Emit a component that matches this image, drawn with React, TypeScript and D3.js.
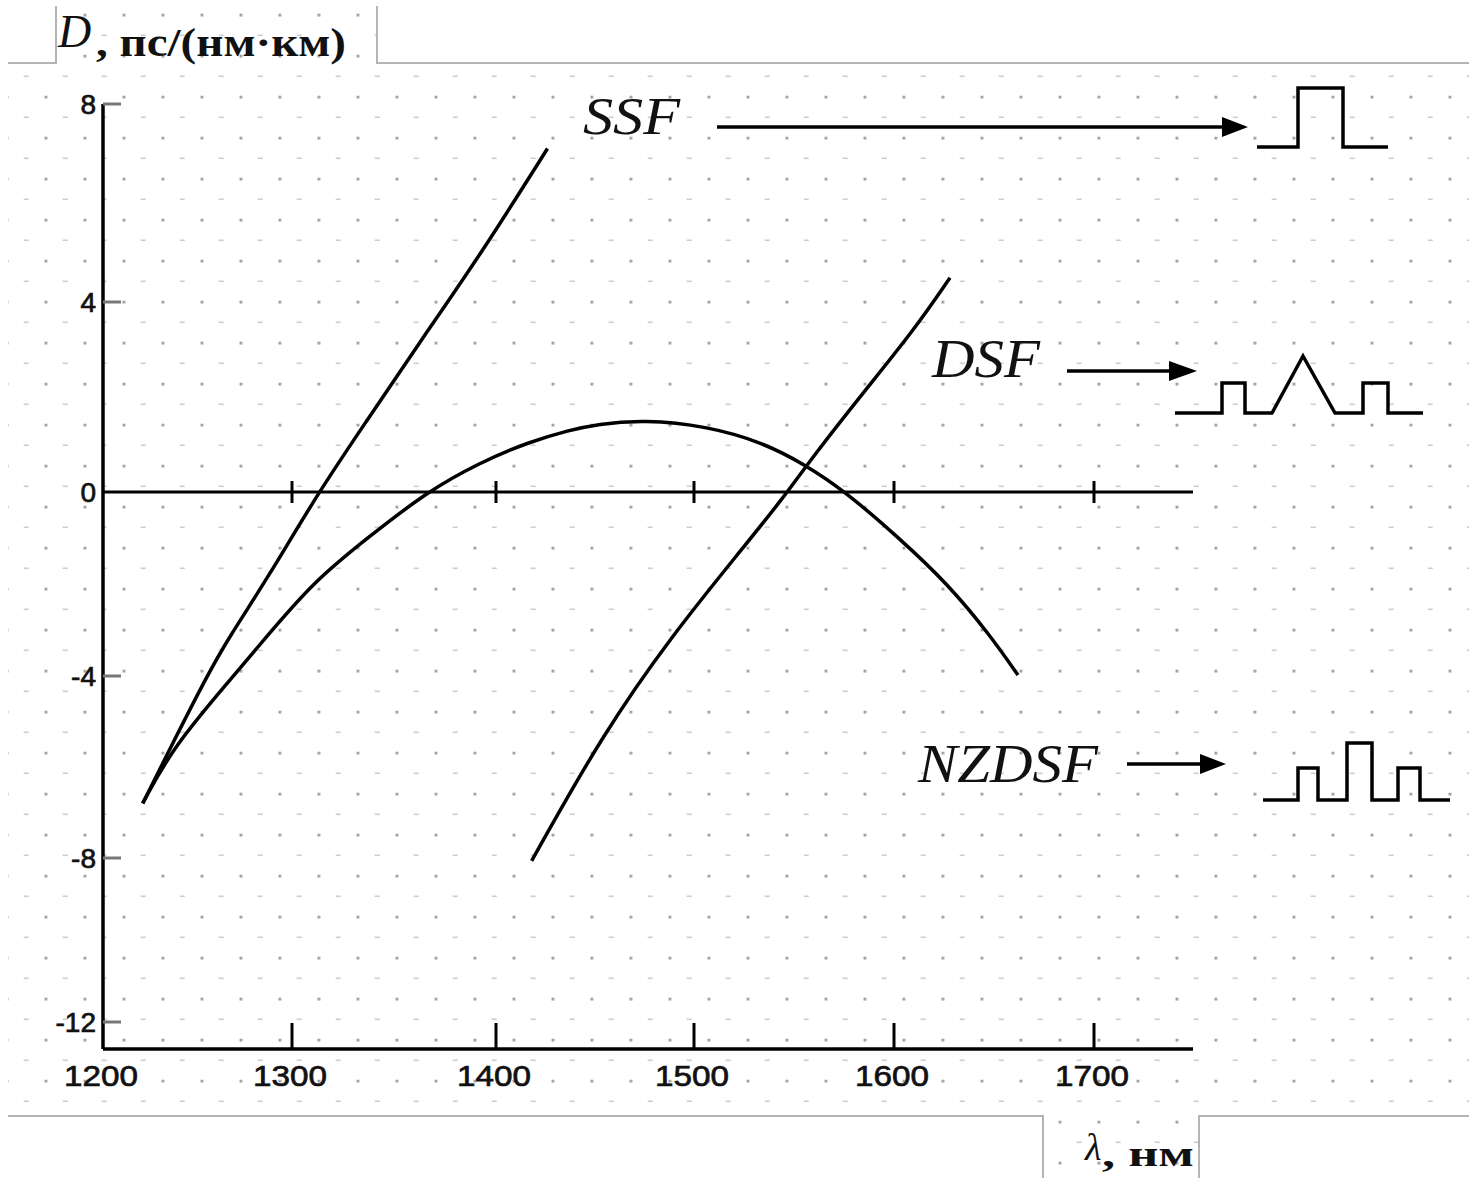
import React from "react";
import * as d3 from "d3";

// ---- data ----
const xTicks = [1200, 1300, 1400, 1500, 1600, 1700];
const yTicks = [8, 4, 0, -4, -8, -12];
const yTickLabels = ["8", "4", "0", "-4", "-8", "-12"];

const ssfLambda = [1221, 1236, 1255, 1266, 1287, 1313, 1337, 1363, 1392, 1426];
const ssfD = [-6.8, -5.55, -4.0, -3.2, -1.88, 0, 1.52, 3.18, 4.93, 7.1];

const nzdsfLambda = [1221, 1237, 1269, 1285, 1311, 1337, 1366, 1392, 1417, 1437, 1451, 1475, 1506, 1534, 1555, 1576, 1602, 1627, 1648, 1662];
const nzdsfD = [-6.8, -5.56, -4.0, -3.22, -1.93, -1.0, 0, 0.62, 1.06, 1.3, 1.43, 1.52, 1.39, 1.05, 0.59, 0, -0.98, -2.0, -3.11, -3.98];

const dsfLambda = [1418, 1454, 1489, 1524, 1545, 1559, 1584, 1610, 1628];
const dsfD = [-8.07, -5.27, -3.11, -1.24, -0.11, 0.72, 2.06, 3.41, 4.49];

// ---- scales (the scanned original is slightly non-uniform, so piecewise) ----
const x = d3.scaleLinear().domain([1200, 1300, 1400, 1500, 1600, 1700, 1750]).range([103, 292, 496, 694, 894, 1094, 1193]);
const y = d3.scaleLinear().domain([-12.7, -12, -8, -4, 0, 4, 8]).range([1049, 1022, 858, 676, 492, 302, 104]);

const line = d3
  .line<[number, number]>()
  .x((d) => x(d[0]))
  .y((d) => y(d[1]))
  .curve(d3.curveBasis);

const zip = (a: number[], b: number[]) => a.map((v, i) => [v, b[i]] as [number, number]);

// refractive-index profile sketches
const ssfProfile = [[1257, 147], [1298, 147], [1298, 88], [1343, 88], [1343, 147], [1388, 147]];
const dsfProfile = [[1175, 413], [1222, 413], [1222, 383], [1245, 383], [1245, 413], [1272, 413], [1303, 356], [1335, 413], [1363, 413], [1363, 383], [1388, 383], [1388, 413], [1423, 413]];
const nzdsfProfile = [[1263, 800], [1298, 800], [1298, 768], [1318, 768], [1318, 800], [1347, 800], [1347, 743], [1372, 743], [1372, 800], [1398, 800], [1398, 768], [1420, 768], [1420, 800], [1450, 800]];

const poly = (pts: number[][]) => "M" + pts.map((p) => p.join(",")).join("L");

function Arrow({ x1, x2, yy, head }: { x1: number; x2: number; yy: number; head: number }) {
  return (
    <g>
      <line x1={x1} x2={x2 - head + 2} y1={yy} y2={yy} stroke="#000" strokeWidth={3.5} />
      <path d={`M${x2},${yy}L${x2 - head},${yy - 10}L${x2 - head},${yy + 10}Z`} fill="#000" />
    </g>
  );
}

export default function App() {
  const serif = "'Liberation Serif', 'DejaVu Serif', serif";
  const sans = "'Liberation Sans', Arial, sans-serif";
  const yAxisX = x(1200);
  const bottomY = y(-12.7);
  return (
    <svg width={1469} height={1178} style={{ position: "absolute", left: 0, top: 0, background: "#fff" }}>
      <defs>
        <pattern id="dots" x={4.7} y={12.9} width={39} height={41} patternUnits="userSpaceOnUse">
          <rect x={0.8} y={0.8} width={2.8} height={2.8} fill="#9c9c9c" />
          <rect x={19} y={21.6} width={5} height={1.5} fill="#c8c8c8" />
        </pattern>
      </defs>

      {/* dotted background areas */}
      <rect x={8} y={63} width={1461} height={1053} fill="url(#dots)" />
      <rect x={57} y={5} width={320} height={58} fill="url(#dots)" />
      <rect x={1043} y={1116} width={156} height={62} fill="url(#dots)" />

      {/* frame lines */}
      <path d="M8,63H56V6M377,6V63H1469" fill="none" stroke="#b4b4b4" strokeWidth={2} />
      <path d="M8,1116H1043V1178M1199,1178V1116H1469" fill="none" stroke="#b4b4b4" strokeWidth={2} />

      {/* title */}
      <text x={58} y={47} fontFamily={serif} fontStyle="italic" fontSize={46} fill="#111">D</text>
      <text x={96} y={56} fontFamily={serif} fontWeight="bold" fontSize={40} fill="#111" textLength={250} lengthAdjust="spacingAndGlyphs">, пс/(нм·км)</text>

      {/* axes */}
      <line x1={yAxisX} x2={yAxisX} y1={y(8)} y2={bottomY} stroke="#000" strokeWidth={3.5} />
      <line x1={yAxisX} x2={x(1750)} y1={bottomY} y2={bottomY} stroke="#000" strokeWidth={3.5} />
      <line x1={yAxisX} x2={x(1750)} y1={y(0)} y2={y(0)} stroke="#000" strokeWidth={3} />

      {yTicks.map((t, i) => (
        <g key={"y" + t}>
          {t !== 0 && <line x1={yAxisX} x2={yAxisX + 18} y1={y(t)} y2={y(t)} stroke="#777" strokeWidth={3} />}
          <text x={96} y={y(t) + 10} textAnchor="end" fontFamily={sans} fontSize={28} fill="#111" stroke="#111" strokeWidth={0.7}>
            {yTickLabels[i]}
          </text>
        </g>
      ))}

      {xTicks.map((t) => (
        <g key={"x" + t}>
          {t !== 1200 && (
            <>
              <line x1={x(t)} x2={x(t)} y1={bottomY} y2={bottomY - 26} stroke="#000" strokeWidth={3} />
              <line x1={x(t)} x2={x(t)} y1={y(0) - 11} y2={y(0) + 11} stroke="#000" strokeWidth={3} />
            </>
          )}
          <text x={x(t) - 2} y={bottomY + 37} textAnchor="middle" fontFamily={sans} fontSize={30} fill="#111" stroke="#111" strokeWidth={0.7} textLength={74} lengthAdjust="spacingAndGlyphs">
            {t}
          </text>
        </g>
      ))}

      {/* curves */}
      <path d={line(zip(ssfLambda, ssfD)) || ""} fill="none" stroke="#000" strokeWidth={3.5} />
      <path d={line(zip(nzdsfLambda, nzdsfD)) || ""} fill="none" stroke="#000" strokeWidth={3.5} />
      <path d={line(zip(dsfLambda, dsfD)) || ""} fill="none" stroke="#000" strokeWidth={3.5} />

      {/* labels, arrows, profiles */}
      <text x={583} y={134} fontFamily={serif} fontStyle="italic" fontSize={52} fill="#111" textLength={97} lengthAdjust="spacingAndGlyphs">SSF</text>
      <Arrow x1={717} x2={1248} yy={127} head={26} />
      <path d={poly(ssfProfile)} fill="none" stroke="#000" strokeWidth={3.5} />

      <text x={932} y={377} fontFamily={serif} fontStyle="italic" fontSize={54} fill="#111" textLength={108} lengthAdjust="spacingAndGlyphs">DSF</text>
      <Arrow x1={1067} x2={1197} yy={371} head={28} />
      <path d={poly(dsfProfile)} fill="none" stroke="#000" strokeWidth={3.5} />

      <text x={918} y={782} fontFamily={serif} fontStyle="italic" fontSize={54} fill="#111" textLength={180} lengthAdjust="spacingAndGlyphs">NZDSF</text>
      <Arrow x1={1127} x2={1226} yy={764} head={26} />
      <path d={poly(nzdsfProfile)} fill="none" stroke="#000" strokeWidth={3.5} />

      {/* bottom label */}
      <text x={1085} y={1160} fontFamily={serif} fontStyle="italic" fontSize={38} fill="#111">λ</text>
      <text x={1102} y={1166} fontFamily={serif} fontWeight="bold" fontSize={36} fill="#111" textLength={92} lengthAdjust="spacingAndGlyphs">, нм</text>
    </svg>
  );
}
